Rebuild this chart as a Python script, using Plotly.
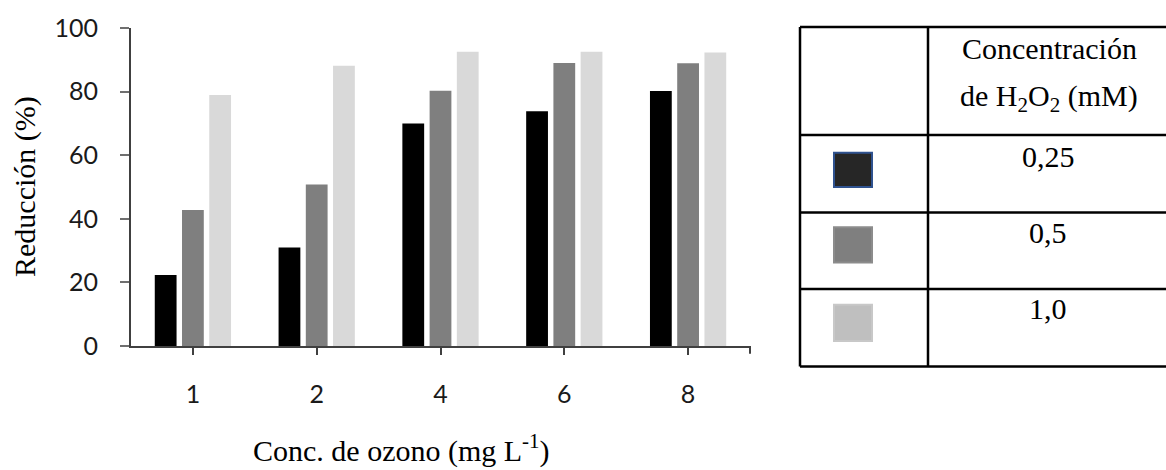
import plotly.graph_objects as go

# ---- data ----
categories = ["1", "2", "4", "6", "8"]
series_names = ["0,25", "0,5", "1,0"]
red_025 = [22.3, 31.0, 70.0, 73.8, 80.2]
red_05 = [42.8, 50.8, 80.3, 89.0, 88.9]
red_10 = [78.9, 88.1, 92.5, 92.5, 92.3]
series_colors = ["#000000", "#7f7f7f", "#d9d9d9"]
swatch_colors = ["#262626", "#7f7f7f", "#bfbfbf"]
swatch_borders = ["#2f528f", "#8c8c8c", "#c8c8c8"]
y_ticks = [0, 20, 40, 60, 80, 100]

W, H = 1166, 470
L, R, T, B = 131, 416, 22, 124
PW, PH = W - L - R, H - T - B


def px(x):
    return (x - L) / PW


def py(y):
    return (H - B - y) / PH


fig = go.Figure()
for name, vals, col in zip(series_names, [red_025, red_05, red_10], series_colors):
    fig.add_trace(go.Bar(x=categories, y=vals, name=name,
                         marker=dict(color=col, line=dict(width=0)),
                         showlegend=False, hoverinfo="skip"))

serif = "Liberation Serif, Times New Roman, serif"
sans = "Lato, Open Sans, sans-serif"

fig.update_layout(
    width=W, height=H, autosize=False,
    margin=dict(l=L, r=R, t=T, b=B),
    paper_bgcolor="white", plot_bgcolor="white",
    barmode="group", bargap=0.34, bargroupgap=0.2,
    xaxis=dict(type="category", showline=True, linecolor="#404040", linewidth=2,
               ticks="outside", ticklen=7, tickwidth=2, tickcolor="#404040",
               tickfont=dict(family=sans, size=25, color="#1a1a1a"),
               ticklabelstandoff=18, showgrid=False, zeroline=False),
    yaxis=dict(range=[0, 100], tickvals=y_ticks, showline=True, linecolor="#404040",
               linewidth=2, ticks="outside", ticklen=9, tickwidth=2, tickcolor="#6f6f6f",
               tickfont=dict(family=sans, size=25, color="#1a1a1a"),
               ticklabelstandoff=17, showgrid=False, zeroline=False),
)

# axis end tick on the right
fig.add_shape(type="line", xref="paper", yref="paper", x0=1, x1=1, y0=0, y1=py(354),
              line=dict(color="#404040", width=2))

# axis titles
fig.add_annotation(text="Reducción (%)", xref="paper", yref="paper", x=px(25), y=py(184),
                   textangle=-90, showarrow=False, xanchor="center", yanchor="middle",
                   font=dict(family=serif, size=30, color="black"))
fig.add_annotation(text="Conc. de ozono (mg L<sup>-1</sup>)", xref="paper", yref="paper",
                   x=px(401), y=py(450), showarrow=False, xanchor="center", yanchor="middle",
                   font=dict(family=serif, size=30, color="black"))

# legend table
lw = 2.5
tx0, tx1, tx2 = 800, 928, 1170
rows = [21, 131, 210, 288, 367]
for ry in rows:
    fig.add_shape(type="line", xref="paper", yref="paper", x0=px(tx0), x1=px(tx2),
                  y0=py(ry), y1=py(ry), line=dict(color="black", width=lw))
for cx in [tx0, tx1]:
    fig.add_shape(type="line", xref="paper", yref="paper", x0=px(cx), x1=px(cx),
                  y0=py(rows[0]), y1=py(rows[-1]), line=dict(color="black", width=lw))

fig.add_annotation(text="Concentración", xref="paper", yref="paper", x=px(960), y=py(43),
                   showarrow=False, xanchor="left", yanchor="middle",
                   font=dict(family=serif, size=30, color="black"))
fig.add_annotation(text="de H<sub>2</sub>O<sub>2</sub> (mM)", xref="paper", yref="paper",
                   x=px(958), y=py(93), showarrow=False, xanchor="left", yanchor="middle",
                   font=dict(family=serif, size=30, color="black"))

sw_y = [(149, 184), (225, 261), (304, 341)]
lab_y = [153, 230, 308]
for name, fc, bc, (y0, y1), ly in zip(series_names, swatch_colors, swatch_borders, sw_y, lab_y):
    fig.add_shape(type="rect", xref="paper", yref="paper", x0=px(834), x1=px(872),
                  y0=py(y1), y1=py(y0), fillcolor=fc, line=dict(color=bc, width=2))
    fig.add_annotation(text=name, xref="paper", yref="paper", x=px(1048), y=py(ly),
                       showarrow=False, xanchor="center", yanchor="middle",
                       font=dict(family=serif, size=30, color="black"))

fig.write_html("out.html", config={"displayModeBar": False},
               post_script="document.body.style.margin='0';document.body.style.overflow='hidden';")
